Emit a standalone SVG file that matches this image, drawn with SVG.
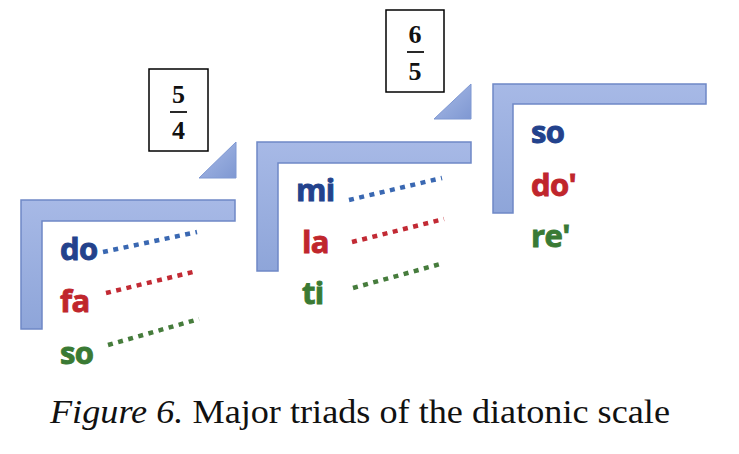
<svg xmlns="http://www.w3.org/2000/svg" width="739" height="454" viewBox="0 0 739 454">
<defs>
<linearGradient id="lg" x1="0" y1="0" x2="0" y2="1">
<stop offset="0" stop-color="#A7B9E6"/>
<stop offset="1" stop-color="#8EA5D9"/>
</linearGradient>
<linearGradient id="tg" x1="0" y1="0" x2="1" y2="1">
<stop offset="0" stop-color="#A9BBE7"/>
<stop offset="1" stop-color="#7F98D2"/>
</linearGradient>
</defs>
<style>
.lshape{fill:url(#lg);stroke:#6F88C6;stroke-width:1.5}
.tri{fill:url(#tg);stroke:#7F98D2;stroke-width:1}
.box{fill:#fff;stroke:#000;stroke-width:1.5}
.frac{font-family:"Liberation Serif","DejaVu Serif",serif;font-weight:bold;font-size:26px;text-anchor:middle;fill:#111}
.bar{stroke:#111;stroke-width:1.8}
.note{font-family:"Open Sans","Liberation Sans",sans-serif;font-weight:bold;font-size:31px;letter-spacing:-0.6px;stroke-width:0.9}
.b{fill:#23428C;stroke:#23428C}.r{fill:#C0262C;stroke:#C0262C}.g{fill:#3A7A34;stroke:#3A7A34}
.dot{fill:none;stroke-width:4.5;stroke-dasharray:5 5.5}
.db{stroke:#3A68B2}.dr{stroke:#C22A34}.dg{stroke:#467C3C}
.cap{font-family:"Liberation Serif","Times New Roman",serif;font-size:34px;fill:#111}
</style>
<g id="ratio-5-4">
<rect class="box" x="149" y="69" width="59" height="82"/>
<text class="frac" x="178.5" y="103">5</text>
<line class="bar" x1="170" y1="112" x2="187" y2="112"/>
<text class="frac" x="178.5" y="139">4</text>
<polygon class="tri" points="199,178 236,142 236,178"/>
</g>
<g id="ratio-6-5">
<rect class="box" x="386" y="10" width="58" height="82"/>
<text class="frac" x="415" y="43">6</text>
<line class="bar" x1="407" y1="52" x2="424" y2="52"/>
<text class="frac" x="415" y="80">5</text>
<polygon class="tri" points="434,119 471,84 471,119"/>
</g>
<g id="step-1">
<path class="lshape" d="M21,200 H235 V221 H42 V329 H21 Z"/>
<text class="note b" x="60" y="260">do</text>
<text class="note r" x="60" y="312">fa</text>
<text class="note g" x="60" y="364">so</text>
</g>
<g id="step-2">
<path class="lshape" d="M257,142 H471 V163 H278 V271 H257 Z"/>
<text class="note b" x="296" y="201">mi</text>
<text class="note r" x="302" y="253">la</text>
<text class="note g" x="302" y="304">ti</text>
</g>
<g id="step-3">
<path class="lshape" d="M493,84 H706 V104 H513 V213 H493 Z"/>
<text class="note b" x="531" y="143">so</text>
<text class="note r" x="531" y="196">do'</text>
<text class="note g" x="531" y="247">re'</text>
</g>
<g id="connectors">
<line class="dot db" x1="103" y1="252" x2="197" y2="232"/>
<line class="dot dr" x1="106" y1="293" x2="197" y2="271"/>
<line class="dot dg" x1="108" y1="345" x2="199" y2="319"/>
<line class="dot db" x1="349" y1="200" x2="442" y2="178"/>
<line class="dot dr" x1="352" y1="242" x2="444" y2="219"/>
<line class="dot dg" x1="353" y1="288" x2="444" y2="263"/>
</g>
<text class="cap" x="50" y="423" textLength="620" lengthAdjust="spacingAndGlyphs"><tspan font-style="italic">Figure 6.</tspan> Major triads of the diatonic scale</text>
</svg>
